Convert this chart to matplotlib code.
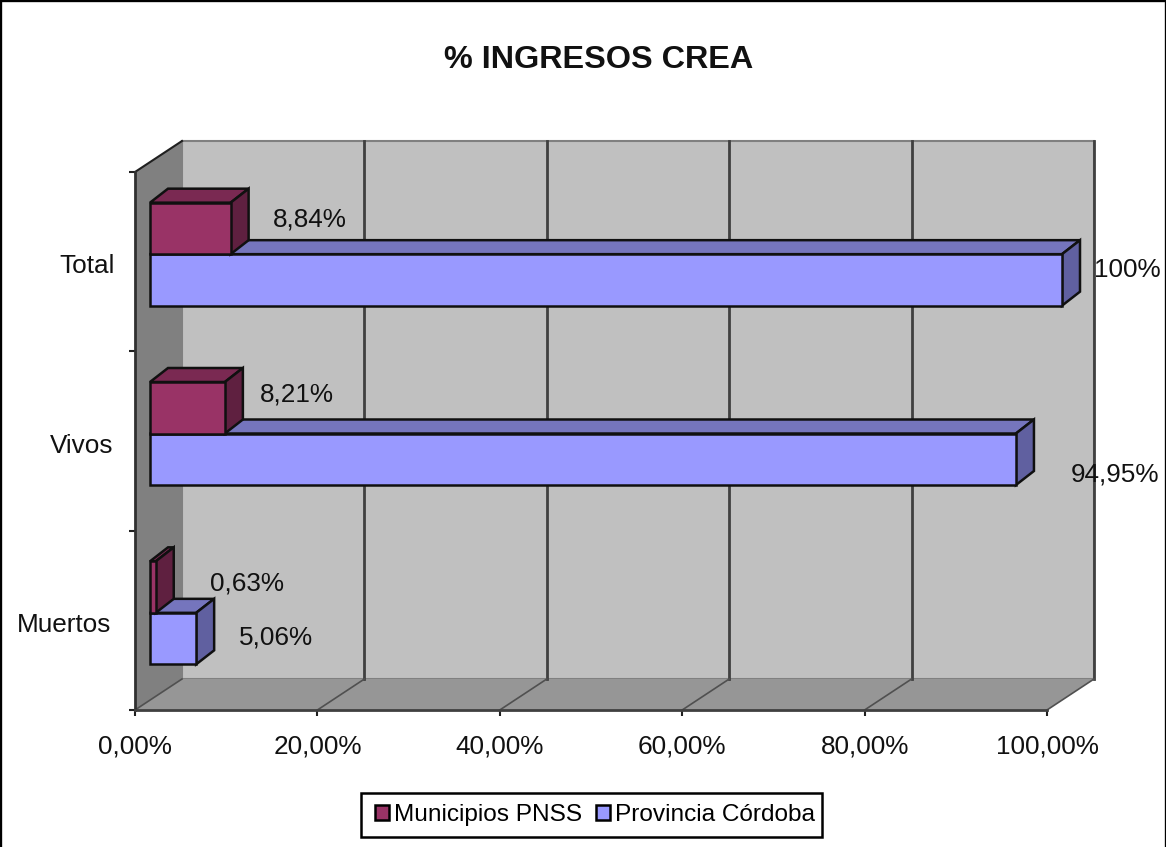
import matplotlib
matplotlib.use('Agg')
from matplotlib import pyplot as plt
from matplotlib.patches import Patch, Polygon, Rectangle

plt.rcParams['font.family'] = ['Liberation Sans', 'DejaVu Sans']

categories = ['Muertos', 'Vivos', 'Total']
municipios = [0.63, 8.21, 8.84]
provincia = [5.06, 94.95, 100]
municipios_labels = ['0,63%', '8,21%', '8,84%']
provincia_labels = ['5,06%', '94,95%', '100%']
x_ticks = [0, 20, 40, 60, 80, 100]
x_tick_labels = ['0,00%', '20,00%', '40,00%', '60,00%', '80,00%', '100,00%']

W, H = 1166, 847
L, R, T, B = 135, 1047, 172, 710
PX = 100 / (R - L)  # data units per pixel
PY = 3 / (B - T)

# depth of the fake 3d box
DX, DY = 47 * PX, 31 * PY
# bars sit a bit inside the box
OFF_X, OFF_Y = 15 * PX, 7.5 * PY
BAR_DX, BAR_DY = 18 * PX, 14 * PY
BAR_H = 51.5 * PY
FS = 18.8

MAROON = ('#993366', '#7A2952', '#5F2040')
BLUE = ('#9999FF', '#7575BD', '#6060A0')

fig = plt.figure(figsize=(W / 100, H / 100), dpi=100)
ax = fig.add_axes([L / W, 1 - B / H, (R - L) / W, (B - T) / H])
ax.set_xlim(0, 100)
ax.set_ylim(0, 3)
ax.patch.set_visible(False)

fig.add_artist(Rectangle((0, -0.02), 1, 1.02, transform=fig.transFigure, fill=False, edgecolor='black', lw=2.4))

# walls and floor
ax.add_patch(Rectangle((DX, DY), 100, 3, facecolor='#C0C0C0', edgecolor='#808080', lw=1.5, clip_on=False, zorder=1))
ax.add_patch(Polygon([(0, 0), (DX, DY), (DX, 3 + DY), (0, 3)], facecolor='#808080', edgecolor='none', clip_on=False, zorder=1.1))
ax.add_patch(Polygon([(0, 0), (100, 0), (100 + DX, DY), (DX, DY)], facecolor='#969696', edgecolor='none', clip_on=False, zorder=1.1))
ax.plot([0, DX], [3, 3 + DY], color='#202020', lw=1.5, clip_on=False, zorder=1.2)

for x in x_ticks:
    if x > 0:
        ax.plot([x + DX, x + DX], [DY, 3 + DY], color='#404040', lw=2, clip_on=False, zorder=1.2)
    ax.plot([x, x + DX], [0, DY], color='#505050', lw=1.2, clip_on=False, zorder=1.2)


def draw_bar(value, y0, colors, z):
    x0 = OFF_X
    x1 = OFF_X + value
    y1 = y0 + BAR_H
    ec = dict(edgecolor='#101010', lw=1.8, clip_on=False, zorder=z, joinstyle='miter')
    ax.add_patch(Polygon([(x0, y1), (x1, y1), (x1 + BAR_DX, y1 + BAR_DY), (x0 + BAR_DX, y1 + BAR_DY)], facecolor=colors[1], **ec))
    ax.add_patch(Polygon([(x1, y0), (x1 + BAR_DX, y0 + BAR_DY), (x1 + BAR_DX, y1 + BAR_DY), (x1, y1)], facecolor=colors[2], **ec))
    ax.barh(y0, value, height=BAR_H, left=x0, align='edge', color=colors[0], edgecolor='#101010', lw=1.8, clip_on=False, zorder=z + 0.1)


for i in range(len(categories)):
    base = i + 0.5 + OFF_Y
    draw_bar(provincia[i], base - BAR_H, BLUE, 3 + i)
    draw_bar(municipios[i], base, MAROON, 3.5 + i)

# data labels, offsets in pixels from the end of each bar
muni_off = [(91, 29.5), (72, 39.5), (79, 35)]
prov_off = [(80, -24.5), (99, -40.5), (65, -16)]
for i in range(len(categories)):
    base = i + 0.5 + OFF_Y
    ax.annotate(municipios_labels[i], (OFF_X + municipios[i], base), xytext=(muni_off[i][0] * 0.72, muni_off[i][1] * 0.72),
                textcoords='offset points', ha='center', va='center', fontsize=FS, color='#111111', zorder=10, annotation_clip=False)
    ax.annotate(provincia_labels[i], (OFF_X + provincia[i], base), xytext=(prov_off[i][0] * 0.72, prov_off[i][1] * 0.72),
                textcoords='offset points', ha='center', va='center', fontsize=FS, color='#111111', zorder=10, annotation_clip=False)

# category labels
cat_right = [24, 22, 20]
for i, name in enumerate(categories):
    ax.annotate(name, (0, i + 0.5), xytext=(-cat_right[i] * 0.72, -4.5 * 0.72), textcoords='offset points',
                ha='right', va='center', fontsize=FS, color='#111111', annotation_clip=False)

ax.set_xticks(x_ticks)
ax.set_xticklabels(x_tick_labels, fontsize=FS, color='#111111')
ax.set_yticks([0, 1, 2, 3])
ax.set_yticklabels([])
ax.tick_params(axis='x', length=4, width=1.5, color='#202020', pad=13.5)
ax.tick_params(axis='y', length=4, width=1.5, color='#202020')
for s in ['top', 'right']:
    ax.spines[s].set_visible(False)
ax.spines['left'].set_linewidth(2)
ax.spines['left'].set_color('#303030')
ax.spines['left'].set_zorder(2)
ax.spines['bottom'].set_linewidth(2)
ax.spines['bottom'].set_color('#404040')
ax.spines['bottom'].set_zorder(2)

fig.text(599 / W, 1 - 60 / H, '% INGRESOS CREA', ha='center', va='center', fontsize=23.3, fontweight='bold', color='#111111')

# legend frame drawn apart so its box matches
fig.add_artist(Rectangle((361 / W, 1 - 837 / H), 461 / W, 44 / H, transform=fig.transFigure, facecolor='white', edgecolor='black', lw=1.8))
handles = [Patch(facecolor=MAROON[0], edgecolor='black', lw=1.8, label='Municipios PNSS'),
           Patch(facecolor=BLUE[0], edgecolor='black', lw=1.8, label='Provincia Córdoba')]
leg = fig.legend(handles=handles, loc='center', bbox_to_anchor=(595 / W, 1 - 815 / H), ncol=2, fontsize=17.6,
                 frameon=False, handlelength=0.6, handleheight=0.6,
                 handletextpad=0.2, columnspacing=0.55, borderpad=0, borderaxespad=0)
leg.set_zorder(5)

fig.savefig('out.png', dpi=100)
